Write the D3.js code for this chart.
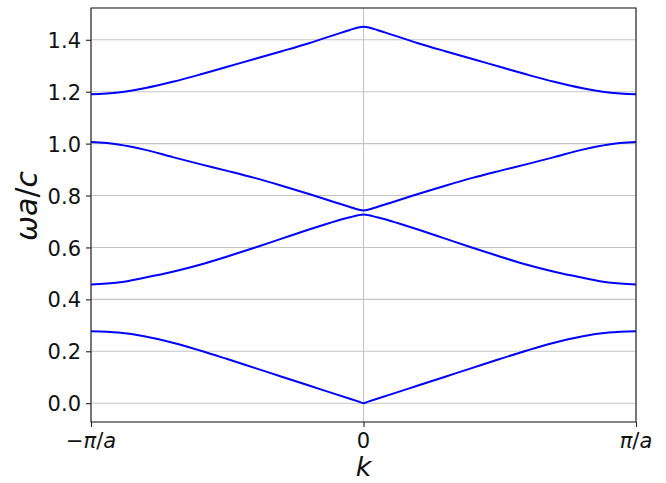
<!DOCTYPE html>
<html>
<head>
<meta charset="utf-8">
<script src="https://d3js.org/d3.v7.min.js"></script>
<style>
body { margin: 0; background: white; }
svg { display: block; font-family: 'DejaVu Sans', sans-serif; }
.grid line { stroke: #c4c4c4; stroke-width: 1.1; }
.band { fill: none; stroke: #0000ff; stroke-width: 2; }
</style>
</head>
<body>
<svg id="svg"></svg>
<script>

// wave vector in units of pi/a
var K = [-1, -0.9, -0.8, -0.7, -0.6, -0.5, -0.4, -0.3, -0.2, -0.1, -0.05, -0.02, 0,
         0.02, 0.05, 0.1, 0.2, 0.3, 0.4, 0.5, 0.6, 0.7, 0.8, 0.9, 1];

// omega a / c
var band1 = [0.277, 0.272, 0.257, 0.233, 0.203, 0.170, 0.136, 0.102, 0.068, 0.034, 0.017, 0.007, 0.0,
             0.007, 0.017, 0.034, 0.068, 0.102, 0.136, 0.170, 0.203, 0.233, 0.257, 0.272, 0.277];
var band2 = [0.457, 0.465, 0.484, 0.506, 0.533, 0.565, 0.599, 0.634, 0.669, 0.702, 0.716, 0.724, 0.727,
             0.724, 0.716, 0.702, 0.669, 0.634, 0.599, 0.565, 0.533, 0.506, 0.484, 0.465, 0.457];
var band3 = [1.006, 0.997, 0.976, 0.948, 0.921, 0.895, 0.868, 0.838, 0.806, 0.772, 0.756, 0.746, 0.742,
             0.746, 0.756, 0.772, 0.806, 0.838, 0.868, 0.895, 0.921, 0.948, 0.976, 0.997, 1.006];
var band4 = [1.190, 1.197, 1.214, 1.238, 1.266, 1.296, 1.326, 1.356, 1.387, 1.421, 1.438, 1.447, 1.450,
             1.447, 1.438, 1.421, 1.387, 1.356, 1.326, 1.296, 1.266, 1.238, 1.214, 1.197, 1.190];
var bands = [band1, band2, band3, band4];

var yTicks = [0.0, 0.2, 0.4, 0.6, 0.8, 1.0, 1.2, 1.4];
var xTicks = [-1, 0, 1];
var xTickLabels = [["\u2212", "\u03c0", "/", "a"], ["0"], ["", "\u03c0", "/", "a"]];

var W = 666, H = 483;
var margin = {left: 91, right: 30, top: 8, bottom: 61};

var svg = d3.select("#svg").attr("width", W).attr("height", H);
svg.append("rect").attr("width", W).attr("height", H).attr("fill", "white");

var x = d3.scaleLinear().domain([-1, 1]).range([margin.left, W - margin.right]);
// matplotlib style 5% margin on the y data range
var ymax = d3.max(band4), ypad = ymax * 0.05;
var y = d3.scaleLinear().domain([-ypad, ymax + ypad]).range([H - margin.bottom, margin.top]);

// grid
var grid = svg.append("g").attr("class", "grid");
grid.selectAll("line.h").data(yTicks).enter().append("line")
  .attr("x1", x(-1)).attr("x2", x(1))
  .attr("y1", function(d) { return y(d); }).attr("y2", function(d) { return y(d); });
grid.selectAll("line.v").data(xTicks).enter().append("line")
  .attr("y1", y.range()[0]).attr("y2", y.range()[1])
  .attr("x1", function(d) { return x(d); }).attr("x2", function(d) { return x(d); });

// bands
var line = d3.line()
  .x(function(d, i) { return x(K[i]); })
  .y(function(d) { return y(d); })
  .curve(d3.curveCatmullRom.alpha(0.5));

svg.selectAll("path.band").data(bands).enter().append("path")
  .attr("class", "band")
  .attr("d", line);

// axes (ticks outward, matplotlib look)
var yAxis = svg.append("g").attr("transform", "translate(" + x(-1) + ",0)")
  .call(d3.axisLeft(y).tickValues(yTicks).tickSize(5).tickPadding(5).tickFormat(d3.format(".1f")));
var xAxis = svg.append("g").attr("transform", "translate(0," + y.range()[0] + ")")
  .call(d3.axisBottom(x).tickValues(xTicks).tickSize(5).tickPadding(5).tickFormat(""));

[yAxis, xAxis].forEach(function(a) {
  a.select(".domain").remove();
  a.selectAll(".tick line").attr("stroke", "#222").attr("stroke-width", 1.1);
  a.selectAll("text").attr("fill", "#111").style("font-size", "21px").style("font-family", "'DejaVu Sans'");
});
yAxis.selectAll("text").attr("dy", "0.36em");

// x tick labels with math italics
xTicks.forEach(function(t, i) {
  var txt = svg.append("text")
    .attr("x", x(t)).attr("y", 448)
    .attr("text-anchor", "middle")
    .style("font-size", "21px").attr("fill", "#111");
  xTickLabels[i].forEach(function(s, j) {
    if (!s) return;
    txt.append("tspan").text(s)
      .style("font-style", (s == "\u03c0" || s == "a") ? "italic" : "normal");
  });
});

// frame
svg.append("rect")
  .attr("x", x(-1)).attr("y", y.range()[1])
  .attr("width", x(1) - x(-1)).attr("height", y.range()[0] - y.range()[1])
  .attr("fill", "none").attr("stroke", "#222").attr("stroke-width", 1.1);

// axis labels
svg.append("text")
  .attr("x", x(0)).attr("y", 476)
  .attr("text-anchor", "middle")
  .style("font-size", "27px").style("font-style", "italic")
  .attr("fill", "#111")
  .text("k");

var yl = svg.append("text")
  .attr("transform", "translate(37,206) rotate(-90)")
  .attr("text-anchor", "middle")
  .style("font-size", "30px").attr("fill", "#111");
yl.append("tspan").text("\u03c9a").style("font-style", "italic");
yl.append("tspan").text("/");
yl.append("tspan").text("c").style("font-style", "italic");

</script>
</body>
</html>
